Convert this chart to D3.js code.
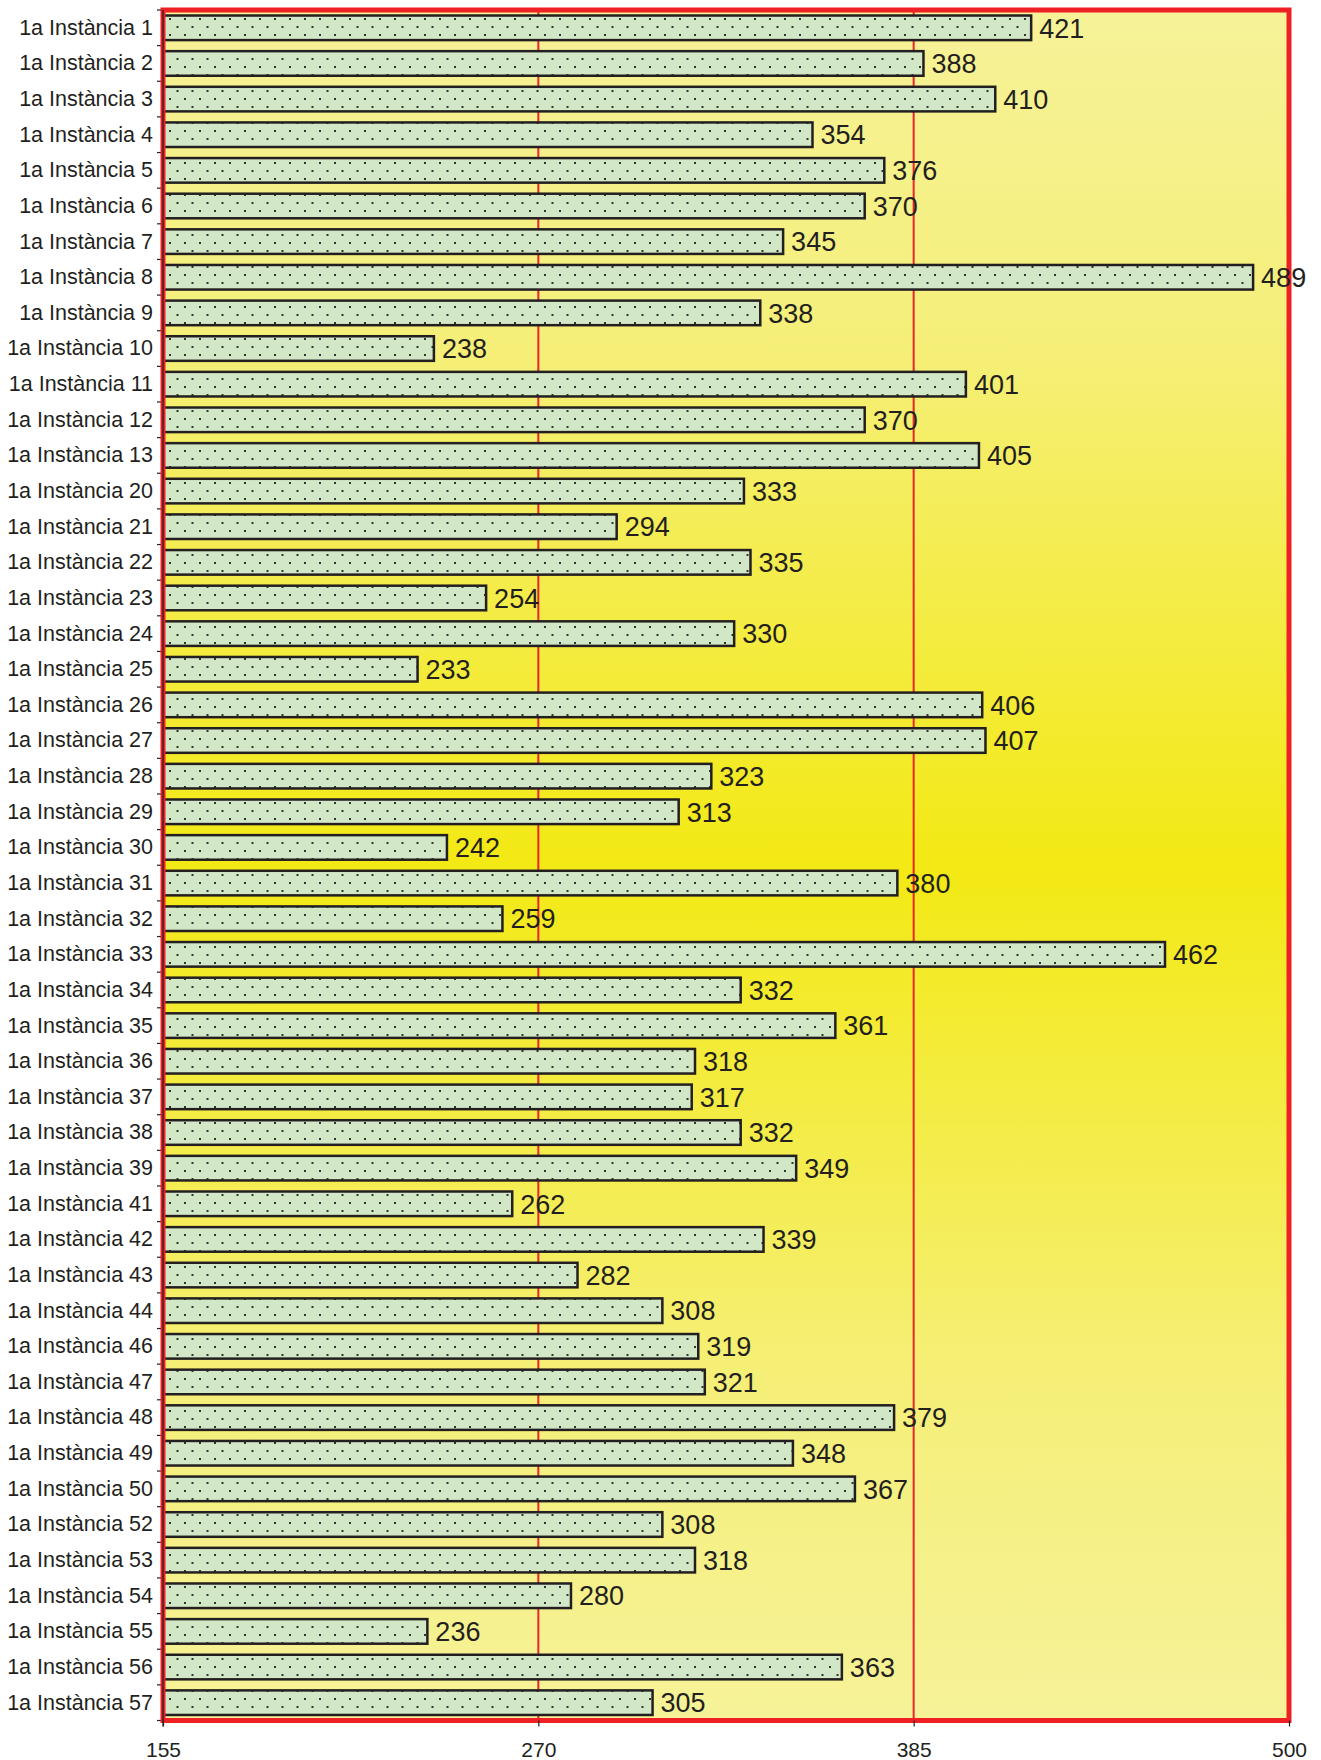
<!DOCTYPE html>
<html>
<head>
<meta charset="utf-8">
<script src="https://cdn.jsdelivr.net/npm/d3@7"></script>
<style>
  html, body { margin: 0; padding: 0; background: #ffffff; }
  svg { display: block; }
  text { font-family: "Liberation Sans", Arial, sans-serif; fill: #231f20; }
</style>
</head>
<body>
<svg id="chart" width="1321" height="1760"></svg>
<script>
const categories = [
  "1a Instància 1","1a Instància 2","1a Instància 3","1a Instància 4","1a Instància 5",
  "1a Instància 6","1a Instància 7","1a Instància 8","1a Instància 9","1a Instància 10",
  "1a Instància 11","1a Instància 12","1a Instància 13","1a Instància 20","1a Instància 21",
  "1a Instància 22","1a Instància 23","1a Instància 24","1a Instància 25","1a Instància 26",
  "1a Instància 27","1a Instància 28","1a Instància 29","1a Instància 30","1a Instància 31",
  "1a Instància 32","1a Instància 33","1a Instància 34","1a Instància 35","1a Instància 36",
  "1a Instància 37","1a Instància 38","1a Instància 39","1a Instància 41","1a Instància 42",
  "1a Instància 43","1a Instància 44","1a Instància 46","1a Instància 47","1a Instància 48",
  "1a Instància 49","1a Instància 50","1a Instància 52","1a Instància 53","1a Instància 54",
  "1a Instància 55","1a Instància 56","1a Instància 57"
];
const values = [
  421,388,410,354,376,370,345,489,338,238,
  401,370,405,333,294,335,254,330,233,406,
  407,323,313,242,380,259,462,332,361,318,
  317,332,349,262,339,282,308,319,321,379,
  348,367,308,318,280,236,363,305
];
const xTicks = [155, 270, 385, 500];
const xDomain = [155, 500];
const gridValues = [270, 385];

const svg = d3.select("#chart");
const pLeft = 163, pRight = 1289, pTop = 10, pBottom = 1720.5;

const x = d3.scaleLinear().domain(xDomain).range([pLeft, pRight]);
const y = d3.scaleBand().domain(categories).range([pTop, pBottom])
  .paddingInner(0.31).paddingOuter(0.155);

const defs = svg.append("defs");
const grad = defs.append("linearGradient").attr("id", "bg")
  .attr("x1", 0).attr("y1", 0).attr("x2", 0).attr("y2", 1);
grad.append("stop").attr("offset", "0%").attr("stop-color", "rgb(246,242,152)");
grad.append("stop").attr("offset", "20%").attr("stop-color", "rgb(245,239,120)");
grad.append("stop").attr("offset", "50%").attr("stop-color", "rgb(243,233,20)");
grad.append("stop").attr("offset", "80%").attr("stop-color", "rgb(245,239,120)");
grad.append("stop").attr("offset", "100%").attr("stop-color", "rgb(246,242,152)");

const pat = defs.append("pattern").attr("id", "dots")
  .attr("patternUnits", "userSpaceOnUse").attr("width", 15).attr("height", 16)
  .attr("x", 4).attr("y", 2);
pat.append("rect").attr("width", 15).attr("height", 16).attr("fill", "#d1e7c6");
pat.append("rect").attr("x", 0).attr("y", 0).attr("width", 2).attr("height", 2).attr("fill", "#333333");
pat.append("rect").attr("x", 7.5).attr("y", 8).attr("width", 2).attr("height", 2).attr("fill", "#333333");

// background
svg.append("rect").attr("x", pLeft).attr("y", pTop)
  .attr("width", pRight - pLeft).attr("height", pBottom - pTop)
  .attr("fill", "url(#bg)");

// grid lines
svg.append("g").selectAll("line").data(gridValues).join("line")
  .attr("x1", d => x(d)).attr("x2", d => x(d))
  .attr("y1", pTop).attr("y2", pBottom)
  .attr("stroke", "#e8262b").attr("stroke-width", 2);

// bars
svg.append("g").selectAll("rect").data(values).join("rect")
  .attr("x", x(xDomain[0]))
  .attr("y", (d, i) => y(categories[i]))
  .attr("width", d => x(d) - x(xDomain[0]))
  .attr("height", y.bandwidth())
  .attr("fill", "url(#dots)")
  .attr("stroke", "#231f20").attr("stroke-width", 2.5);

// left axis
const yAxis = d3.axisLeft(y).tickSize(0).tickPadding(10);
const gy = svg.append("g").attr("transform", `translate(${pLeft},0)`).call(yAxis);
gy.select(".domain").remove();
gy.selectAll("text").style("font-size", "21.5px")
  .style("font-family", "'Liberation Sans', Arial, sans-serif").attr("fill", "#231f20");
// band boundary ticks
const bounds = categories.map(c => y(c) - y.step() * y.paddingInner() / 2);
bounds.push(pBottom);
svg.append("g").selectAll("line").data(bounds).join("line")
  .attr("x1", pLeft - 6).attr("x2", pLeft)
  .attr("y1", d => d).attr("y2", d => d)
  .attr("stroke", "#231f20").attr("stroke-width", 1.2);

// border
svg.append("rect").attr("x", pLeft).attr("y", pTop)
  .attr("width", pRight - pLeft).attr("height", pBottom - pTop)
  .attr("fill", "none").attr("stroke", "#ee2024").attr("stroke-width", 5);

svg.append("line").attr("x1", pLeft).attr("x2", pLeft).attr("y1", pTop).attr("y2", pBottom + 6)
  .attr("stroke", "#231f20").attr("stroke-width", 1.2);

// bottom axis
const xAxis = d3.axisBottom(x).tickValues(xTicks).tickSize(6).tickPadding(16).tickFormat(d3.format("d"));
const gx = svg.append("g").attr("transform", `translate(0,${pBottom})`).call(xAxis);
gx.select(".domain").remove();
gx.selectAll(".tick line").attr("stroke", "#231f20").attr("stroke-width", 1.2);
gx.selectAll("text").style("font-size", "21px")
  .style("font-family", "'Liberation Sans', Arial, sans-serif").attr("fill", "#231f20");

// value labels
svg.append("g").selectAll("text").data(values).join("text")
  .attr("x", d => x(d) + 8)
  .attr("y", (d, i) => y(categories[i]) + y.bandwidth() / 2)
  .attr("dy", "0.36em")
  .style("font-size", "27px")
  .text(d => d);
</script>
</body>
</html>
